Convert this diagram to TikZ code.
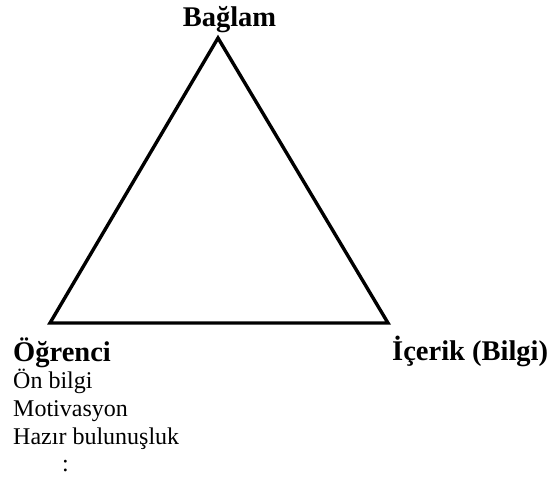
\documentclass[tikz,border=0pt]{standalone}
\usepackage{fontspec}
\setmainfont{Liberation Serif}
\begin{document}
\begin{tikzpicture}[x=1pt, y=-1pt,
    baslik/.style={anchor=base west, inner sep=0pt, font=\fontsize{28.5}{30}\selectfont\bfseries},
    madde/.style={anchor=base west, inner sep=0pt, font=\fontsize{24}{26}\selectfont}]
  \useasboundingbox (0,0) rectangle (553,479);
  % ucgenin koseleri
  \coordinate (baglam) at (218,38);
  \coordinate (ogrenci) at (50,323);
  \coordinate (icerik) at (388,323);
  \draw[line width=3.4pt, line join=miter] (baglam) -- (icerik) -- (ogrenci) -- cycle;

  % kose etiketleri
  \node[baslik, anchor=base] (tbaglam) at (229.5,26) {Bağlam};
  \node[baslik] (togrenci) at (13,361) {Öğrenci};
  \node[baslik] (ticerik) at (392,360) {İçerik (Bilgi)};

  % ogrenci ozellikleri
  \node[madde] (onbilgi) at (13,388) {Ön bilgi};
  \node[madde] (motiv) at (13,416) {Motivasyon};
  \node[madde] (hazir) at (13,444) {Hazır bulunuşluk};
  \node[madde] (devam) at (62,471) {:};
\end{tikzpicture}
\end{document}
